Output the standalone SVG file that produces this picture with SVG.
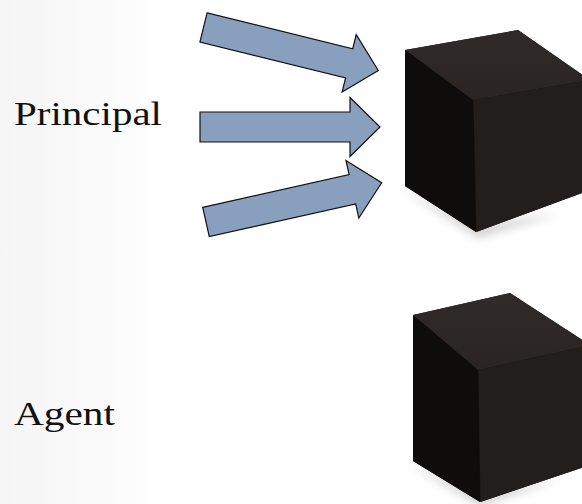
<svg xmlns="http://www.w3.org/2000/svg" width="582" height="504" viewBox="0 0 582 504">
  <defs>
    <style>
      .label { font-family: "Liberation Serif", "DejaVu Serif", serif; font-size: 33px; fill: #111; }
      .arrow { fill: #889fbd; stroke: #111; stroke-width: 1.2; stroke-linejoin: miter; }
      .face-left { fill: #0f0d0c; }
      .face-right { fill: #221e1b; }
      .silhouette { fill: #161311; }
    </style>
    <linearGradient id="bg" x1="0" y1="0" x2="1" y2="0">
      <stop offset="0" stop-color="#f5f5f5"/>
      <stop offset="0.3" stop-color="#ffffff"/>
    </linearGradient>
    <linearGradient id="topFace" x1="0" y1="0" x2="0" y2="1">
      <stop offset="0" stop-color="#302b28"/>
      <stop offset="1" stop-color="#2a2522"/>
    </linearGradient>
    <filter id="soft" x="-20%" y="-20%" width="140%" height="140%">
      <feGaussianBlur stdDeviation="4"/>
    </filter>
    <!-- block arrow pointing along +x, tail centred on the origin -->
    <polygon id="blockArrow" class="arrow" points="0,-15 150,-15 150,-29.5 180,0 150,29.5 150,15 0,15"/>
  </defs>

  <rect width="582" height="504" fill="url(#bg)"/>

  <g id="principal-label">
    <text class="label" x="14" y="125" textLength="148" lengthAdjust="spacingAndGlyphs">Principal</text>
  </g>
  <g id="agent-label">
    <text class="label" x="14" y="425" textLength="101" lengthAdjust="spacingAndGlyphs">Agent</text>
  </g>

  <g id="connectors">
    <use href="#blockArrow" transform="translate(203.5,27.5) rotate(13.8)"/>
    <use href="#blockArrow" transform="translate(200,127)"/>
    <use href="#blockArrow" transform="translate(206,222) rotate(-12.6)"/>
  </g>

  <g id="principal-box">
    <polygon points="400,188 478,238 560,214 478,226" fill="#999" opacity="0.45" filter="url(#soft)"/>
    <polygon class="silhouette" points="405,50 518,30 590,80 590,190 476,232 405,186"/>
    <polygon points="405,50 518,30 590,80 473,100" fill="url(#topFace)"/>
    <polygon class="face-left" points="405,50 473,100 476,232 405,186"/>
    <polygon class="face-right" points="473.5,100 590,80 590,190 476.5,232"/>
  </g>

  <g id="agent-box">
    <polygon points="408,464 480,506 560,480 480,494" fill="#999" opacity="0.45" filter="url(#soft)"/>
    <polygon class="silhouette" points="413,315 510,293 590,345 590,465 480,502 413,461"/>
    <polygon points="413,315 510,293 590,345 478,370" fill="url(#topFace)"/>
    <polygon class="face-left" points="413,315 478,370 480,502 413,461"/>
    <polygon class="face-right" points="478.5,370 590,345 590,465 480.5,502"/>
  </g>
</svg>
